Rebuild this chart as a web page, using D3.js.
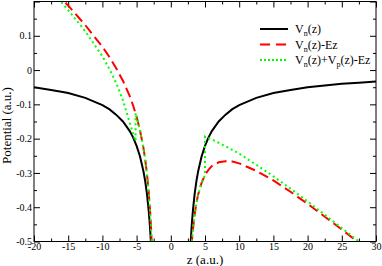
<!DOCTYPE html>
<html>
<head>
<meta charset="utf-8">
<script src="https://cdn.jsdelivr.net/npm/d3@7"></script>
<style>
  body { margin: 0; background: #fff; }
  text { font-family: "Liberation Serif", "DejaVu Serif", serif; fill: #000; }
</style>
</head>
<body>
<div class="chart"></div>
<script>
// values (z in a.u., potential in a.u.)
const zLeft = [-20, -17.5, -16, -15, -12.5, -10, -9, -8, -7, -6, -5.5, -5, -4.5, -4, -3.75, -3.5, -3.25, -3.1, -3.0, -2.9, -2.8, -2.7];
const zRight = [2.7, 2.8, 2.9, 3.0, 3.1, 3.25, 3.5, 3.75, 4, 4.5, 5, 5.5, 6, 7, 8, 9, 10, 12.5, 15, 17.5, 20, 25, 27.5, 30];

// Vn(z)
const vnLeft = [-0.050, -0.058, -0.063, -0.067, -0.081, -0.102, -0.114, -0.130, -0.150, -0.178, -0.197, -0.221, -0.252, -0.295, -0.323, -0.359, -0.406, -0.442, -0.471, -0.506, -0.547, -0.599];
const vnRight = [-0.599, -0.547, -0.506, -0.471, -0.442, -0.406, -0.359, -0.323, -0.295, -0.252, -0.221, -0.197, -0.178, -0.150, -0.130, -0.114, -0.102, -0.081, -0.067, -0.058, -0.050, -0.040, -0.037, -0.033];

// Vn(z)-Ez
const vnEzLeft = [0.290, 0.240, 0.209, 0.188, 0.131, 0.068, 0.039, 0.006, -0.031, -0.076, -0.104, -0.136, -0.176, -0.227, -0.260, -0.300, -0.351, -0.390, -0.420, -0.456, -0.500, -0.553];
const vnEzRight = [-0.645, -0.595, -0.555, -0.522, -0.495, -0.462, -0.419, -0.387, -0.363, -0.329, -0.306, -0.291, -0.280, -0.269, -0.266, -0.267, -0.272, -0.294, -0.322, -0.355, -0.390, -0.465, -0.504, -0.543];

// Vn(z)+Vp(z)-Ez
const zpLeft = [-20, -17.5, -16, -15, -12.5, -10, -9, -8, -7, -6, -5.5, -5.15, -5.15, -5, -4.5, -4, -3.75, -3.5, -3.25, -3.1, -3.0, -2.9, -2.8, -2.7];
const vpLeft = [0.283, 0.231, 0.198, 0.175, 0.113, 0.040, 0.004, -0.037, -0.088, -0.154, -0.186, -0.207, -0.125, -0.136, -0.176, -0.227, -0.260, -0.300, -0.351, -0.390, -0.420, -0.456, -0.500, -0.553];
const zpRight = [2.7, 2.8, 2.9, 3.0, 3.1, 3.25, 3.5, 3.75, 4, 4.5, 5, 5, 5.5, 6, 7, 8, 9, 10, 12.5, 15, 17.5, 20, 25, 27.5, 30];
const vpRight = [-0.645, -0.595, -0.555, -0.522, -0.495, -0.462, -0.419, -0.387, -0.363, -0.329, -0.306, -0.194, -0.198, -0.202, -0.212, -0.222, -0.233, -0.244, -0.276, -0.310, -0.346, -0.383, -0.461, -0.500, -0.540];

// ticks
const xMajor = [-20, -15, -10, -5, 0, 5, 10, 15, 20, 25, 30];
const xMinor = [-17.5, -12.5, -7.5, -2.5, 2.5, 7.5, 12.5, 17.5, 22.5, 27.5];
const yMajor = [-0.5, -0.4, -0.3, -0.2, -0.1, 0, 0.1, 0.2];
const yMinor = [-0.45, -0.35, -0.25, -0.15, -0.05, 0.05, 0.15];
const yLabels = [-0.5, -0.4, -0.3, -0.2, -0.1, 0, 0.1];

const W = 382, H = 266;
const x0 = 34, x1 = 376, yTop = 1.5, yBot = 241.5;

const x = d3.scaleLinear([-20, 30], [x0, x1]);
const y = d3.scaleLinear([-0.5, 0.2], [yBot, yTop]);

const svg = d3.select('.chart').append('svg')
  .attr('width', W).attr('height', H);

svg.append('clipPath').attr('id', 'plot')
  .append('rect')
  .attr('x', x0).attr('y', yTop)
  .attr('width', x1 - x0).attr('height', yBot - yTop);

const fmt = d => (d === 0 ? '0' : String(+d.toFixed(1)));

// axes, ticks pointing inward
function styleAxis(g) {
  g.select('.domain').remove();
  g.selectAll('line').attr('stroke', '#000');
  g.selectAll('text').style('font-size', '10px').attr('fill', '#000').attr('font-family', null);
}

svg.append('g').attr('transform', `translate(0,${yBot})`)
  .call(d3.axisBottom(x).tickValues(xMajor).tickSize(-6).tickPadding(1).tickFormat(fmt))
  .call(styleAxis);
svg.append('g').attr('transform', `translate(0,${yBot})`)
  .call(d3.axisBottom(x).tickValues(xMinor).tickSize(-3).tickFormat(''))
  .call(styleAxis);
svg.append('g').attr('transform', `translate(0,${yTop})`)
  .call(d3.axisTop(x).tickValues(xMajor).tickSize(-6).tickFormat(''))
  .call(styleAxis);
svg.append('g').attr('transform', `translate(0,${yTop})`)
  .call(d3.axisTop(x).tickValues(xMinor).tickSize(-3).tickFormat(''))
  .call(styleAxis);

svg.append('g').attr('transform', `translate(${x0},0)`)
  .call(d3.axisLeft(y).tickValues(yMajor).tickSize(-6).tickPadding(2)
    .tickFormat(d => (yLabels.includes(d) ? fmt(d) : '')))
  .call(styleAxis);
svg.append('g').attr('transform', `translate(${x0},0)`)
  .call(d3.axisLeft(y).tickValues(yMinor).tickSize(-3).tickFormat(''))
  .call(styleAxis);
svg.append('g').attr('transform', `translate(${x1},0)`)
  .call(d3.axisRight(y).tickValues(yMajor).tickSize(-6).tickFormat(''))
  .call(styleAxis);
svg.append('g').attr('transform', `translate(${x1},0)`)
  .call(d3.axisRight(y).tickValues(yMinor).tickSize(-3).tickFormat(''))
  .call(styleAxis);

// curves
const line = d3.line().x(d => x(d[0])).y(d => y(d[1]));
const curves = svg.append('g').attr('clip-path', 'url(#plot)');

const series = [
  { z: zLeft, v: vnLeft, color: '#000', dash: null },
  { z: zRight, v: vnRight, color: '#000', dash: null },
  { z: zLeft, v: vnEzLeft, color: '#ff0000', dash: '10,5' },
  { z: zRight, v: vnEzRight, color: '#ff0000', dash: '10,5' },
  { z: zpLeft, v: vpLeft, color: '#00ff00', dash: '2,3' },
  { z: zpRight, v: vpRight, color: '#00ff00', dash: '2,3' },
];

curves.selectAll('path')
  .data(series)
  .join('path')
  .attr('d', s => line(s.z.map((z, i) => [z, s.v[i]])))
  .attr('fill', 'none')
  .attr('stroke', s => s.color)
  .attr('stroke-width', 2)
  .attr('stroke-dasharray', s => s.dash);

// frame
svg.append('rect')
  .attr('x', x0).attr('y', yTop)
  .attr('width', x1 - x0).attr('height', yBot - yTop)
  .attr('fill', 'none').attr('stroke', '#000').attr('stroke-width', 1);

// axis titles
svg.append('text')
  .attr('x', (x0 + x1) / 2).attr('y', 264)
  .attr('text-anchor', 'middle')
  .style('font-size', '13px')
  .text('z (a.u.)');

svg.append('text')
  .attr('transform', `translate(10.5,${(yTop + yBot) / 2 + 4}) rotate(-90)`)
  .attr('text-anchor', 'middle')
  .style('font-size', '13px')
  .text('Potential (a.u.)');

// legend
const legend = svg.append('g');
const rows = [
  { color: '#000', dash: null, parts: [['V', ''], ['n', 'sub'], ['(z)', '']] },
  { color: '#ff0000', dash: '10,6', parts: [['V', ''], ['n', 'sub'], ['(z)-Ez', '']] },
  { color: '#00ff00', dash: '2,2', parts: [['V', ''], ['n', 'sub'], ['(z)+V', ''], ['p', 'sub'], ['(z)-Ez', '']] },
];
const rowY = [29, 44.5, 60];

rows.forEach((r, i) => {
  legend.append('line')
    .attr('x1', 260).attr('x2', 288)
    .attr('y1', rowY[i]).attr('y2', rowY[i])
    .attr('stroke', r.color).attr('stroke-width', 2)
    .attr('stroke-dasharray', r.dash);
  const t = legend.append('text')
    .attr('x', 295).attr('y', rowY[i] + 4)
    .style('font-size', '12px');
  r.parts.forEach(p => {
    const ts = t.append('tspan').text(p[0]);
    if (p[1] === 'sub') ts.attr('dy', 3).style('font-size', '8px');
    else if (t.selectAll('tspan').size() > 1) ts.attr('dy', -3);
  });
});
</script>
</body>
</html>
